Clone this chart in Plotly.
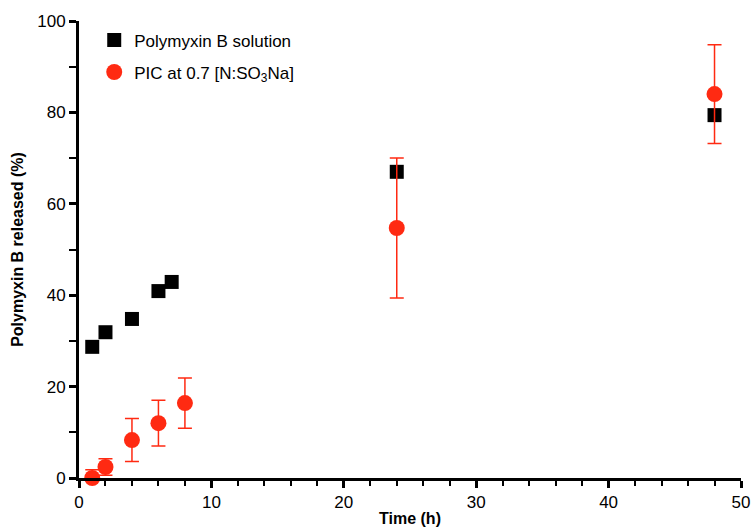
import plotly.graph_objects as go

# Data
sol_time = [1, 2, 4, 6, 7, 24, 48]
sol_release = [28.7, 31.9, 34.8, 40.9, 42.9, 67.0, 79.4]

pic_time = [1, 2, 4, 6, 8, 24, 48]
pic_release = [0.0, 2.4, 8.3, 12.0, 16.4, 54.7, 84.0]
pic_err = [1.8, 1.8, 4.7, 5.0, 5.5, 15.3, 10.8]

series_names = ["Polymyxin B solution", "PIC at 0.7 [N:SO<sub>3</sub>Na]"]

FONT = "Liberation Sans, Arial, Helvetica, sans-serif"
RED = "#FF2A12"

fig = go.Figure()
fig.add_trace(go.Scatter(
    x=sol_time, y=sol_release, mode="markers", name=series_names[0],
    marker=dict(symbol="square", size=14, color="black"),
    cliponaxis=False, legendgroup="a",
))
fig.add_trace(go.Scatter(
    x=pic_time, y=pic_release, mode="markers", name=series_names[1],
    marker=dict(symbol="circle", size=16, color=RED),
    error_y=dict(type="data", array=pic_err, visible=True, color=RED, thickness=1.5, width=7),
    cliponaxis=False, legendgroup="b",
))

fig.update_xaxes(
    range=[0, 50], dtick=10, tick0=0,
    showgrid=False, zeroline=False, showline=True, linecolor="black", linewidth=3,
    ticks="outside", ticklen=7, tickwidth=2.5, tickcolor="black",
    tickfont=dict(family=FONT, size=17, color="black"),
    title=dict(text="<b>Time (h)</b>", font=dict(family=FONT, size=16, color="black"), standoff=2),
    automargin=False,
)
fig.update_yaxes(
    range=[0, 100], dtick=20, tick0=0,
    showgrid=False, zeroline=False, showline=True, linecolor="black", linewidth=3,
    ticks="outside", ticklen=7, tickwidth=2.5, tickcolor="black",
    tickfont=dict(family=FONT, size=17, color="black"),
    title=dict(text="<b>Polymyxin B released (%)</b>", font=dict(family=FONT, size=16, color="black"), standoff=10),
    automargin=False,
)
fig.update_xaxes(minor=dict(ticks="outside", dtick=2, ticklen=5, tickwidth=2, tickcolor="black"))
fig.update_yaxes(minor=dict(ticks="outside", dtick=10, ticklen=7, tickwidth=2, tickcolor="black"))

fig.update_layout(
    width=754, height=529,
    margin=dict(l=79, r=13, t=21, b=51),
    plot_bgcolor="white", paper_bgcolor="white",
    font=dict(family=FONT, size=16, color="black"),
    legend=dict(x=0.023, y=0.997, xanchor="left", yanchor="top",
                bgcolor="rgba(0,0,0,0)", font=dict(family=FONT, size=17, color="black"),
                itemsizing="trace", tracegroupgap=7),
    showlegend=True,
)

fig.write_html("out.html")
